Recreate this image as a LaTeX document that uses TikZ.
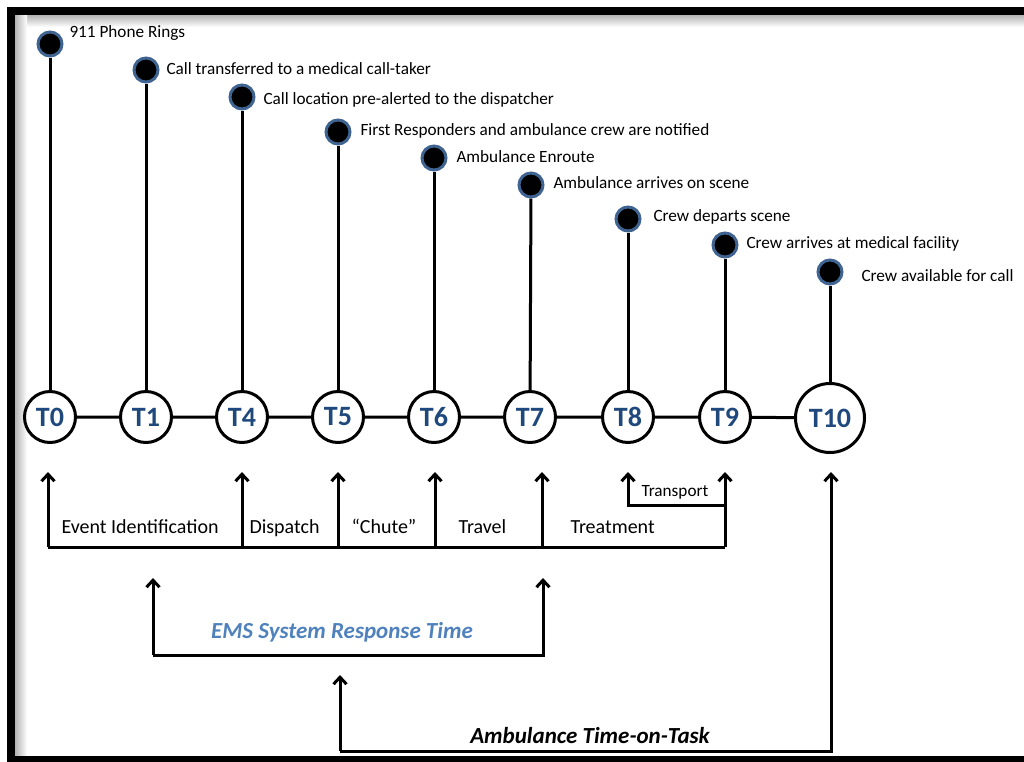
\documentclass[tikz,border=0pt]{standalone}
\usepackage{fontspec}
\setmainfont{Carlito}
\usetikzlibrary{arrows.meta}
\definecolor{tblue}{RGB}{31,73,125}
\definecolor{ringc}{RGB}{64,100,145}
\definecolor{emsblue}{RGB}{79,129,189}
\begin{document}
\begin{tikzpicture}[x=1pt,y=-1pt,line width=3pt,
  tcirc/.style={circle,draw=black,line width=3pt,fill=white,minimum size=51pt,inner sep=0pt,
    font=\fontsize{28}{28}\selectfont\bfseries,text=tblue},
  bigcirc/.style={tcirc,minimum size=69pt},
  dotc/.style={circle,fill=black,draw=ringc,line width=3pt,minimum size=24pt,inner sep=0pt},
  lbl/.style={anchor=base west,inner sep=0pt,font=\fontsize{17.2}{17.2}\selectfont},
  seg/.style={anchor=base west,inner sep=0pt,font=\fontsize{20}{20}\selectfont},
  ttl/.style={anchor=base,inner sep=0pt,font=\fontsize{23}{23}\selectfont\bfseries\itshape},
  arr/.style={-{Straight Barb[length=7pt,width=13pt]}},
  stem/.style={line width=3pt}]
\useasboundingbox (0,0) rectangle (1024,761);
% frame with inner shadow
\shade[top color=black!30,bottom color=white] (15,15) rectangle (1024,27);
\shade[left color=black!30,right color=white] (15,15) rectangle (27,756);
\draw[line width=8pt] (11,11) rectangle (1050,760);

% timeline circles
\node[tcirc] (t0) at (50,417) {T0};
\node[tcirc] (t1) at (146,417) {T1};
\node[tcirc] (t4) at (242,417) {T4};
\node[tcirc] (t5) at (338,417) {T5};
\node[tcirc] (t6) at (434,417) {T6};
\node[tcirc] (t7) at (530,417) {T7};
\node[tcirc] (t8) at (628,417) {T8};
\node[tcirc] (t9) at (725,417) {T9};
\node[bigcirc] (t10) at (830,418) {T10};

% event dots
\node[dotc] (d0) at (50,44) {};
\node[dotc] (d1) at (146,70) {};
\node[dotc] (d4) at (242,97) {};
\node[dotc] (d5) at (338,132) {};
\node[dotc] (d6) at (434,158) {};
\node[dotc] (d7) at (531,185) {};
\node[dotc] (d8) at (628,219) {};
\node[dotc] (d9) at (725,245) {};
\node[dotc] (d10) at (830,272) {};

% event labels
\node[lbl] (l0) at (68,37) {911 Phone Rings};
\node[lbl] (l1) at (165,74) {Call transferred to a medical call-taker};
\node[lbl] (l4) at (262,104) {Call location pre-alerted to the dispatcher};
\node[lbl] (l5) at (359,135) {First Responders and ambulance crew are notified};
\node[lbl] (l6) at (455,162) {Ambulance Enroute};
\node[lbl] (l7) at (552,188) {Ambulance arrives on scene};
\node[lbl] (l8) at (652,221) {Crew departs scene};
\node[lbl] (l9) at (745,248) {Crew arrives at medical facility};
\node[lbl] (l10) at (860,281) {Crew available for call};

% stems
\foreach \i in {0,1,4,5,6,7,8,9,10} \draw[stem] (d\i) -- (t\i);
% timeline
\draw (t0) -- (t1) -- (t4) -- (t5) -- (t6) -- (t7) -- (t8) -- (t9) -- (t10);

% interval brackets
\coordinate (a0) at (48,472);  \coordinate (b0) at (48,547);
\coordinate (a4) at (242,472); \coordinate (b4) at (242,547);
\coordinate (a5) at (338,472); \coordinate (b5) at (338,547);
\coordinate (a6) at (435,472); \coordinate (b6) at (435,547);
\coordinate (a7) at (542,472); \coordinate (b7) at (542,547);
\coordinate (a9) at (725,472); \coordinate (b9) at (725,547);
\coordinate (a8) at (628,472); \coordinate (c8) at (628,505);
\coordinate (c9) at (725,505);
\draw (b0) -- (b9);
\foreach \i in {0,4,5,6,7,9} \draw[arr] (b\i) -- (a\i);
\draw[arr] (c9) -- (c8) -- (a8);

\node[seg] (s1) at (60,533) {Event Identification};
\node[seg] (s2) at (248,533) {Dispatch};
\node[seg] (s3) at (350,533) {“Chute”};
\node[seg] (s4) at (457,533) {Travel};
\node[seg] (s5) at (569,533) {Treatment};
\node[lbl] (s6) at (640,496) {Transport};

% EMS system response time
\coordinate (ea) at (153,578); \coordinate (eb) at (153,655);
\coordinate (fa) at (543,578); \coordinate (fb) at (543,655);
\draw[arr] (eb) -- (ea);
\draw[arr] (eb) -- (fb) -- (fa);
\node[ttl,text=emsblue] (ems) at (342,638) {EMS System Response Time};

% Ambulance time-on-task
\coordinate (ga) at (340,675); \coordinate (gb) at (340,751);
\coordinate (ha) at (831,472); \coordinate (hb) at (831,751);
\draw[arr] (gb) -- (ga);
\draw[arr] (gb) -- (hb) -- (ha);
\node[ttl] (att) at (590,743) {Ambulance Time-on-Task};
\end{tikzpicture}
\end{document}
